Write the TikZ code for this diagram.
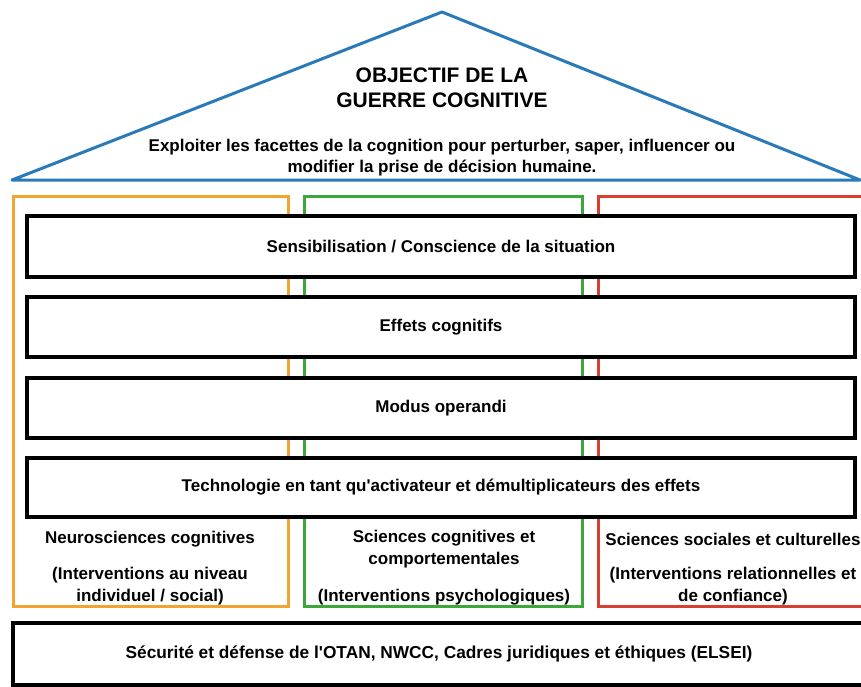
\documentclass[tikz,border=0pt]{standalone}
\usepackage{fontspec}
\setmainfont{Liberation Sans}
\definecolor{triblue}{HTML}{2A7AB8}
\definecolor{corange}{HTML}{F2A431}
\definecolor{cgreen}{HTML}{3CA83A}
\definecolor{cred}{HTML}{D83F30}
\tikzset{
  colbox/.style={draw, line width=3pt, inner sep=0pt, outer sep=0pt},
  layerbox/.style={draw=black, fill=white, line width=4pt, inner sep=0pt, outer sep=0pt,
    minimum width=828pt, minimum height=60pt,
    font=\fontsize{17}{20}\selectfont\bfseries},
  coltext/.style={align=center, inner sep=0pt, font=\fontsize{17}{22}\selectfont\bfseries},
}
\begin{document}
\begin{tikzpicture}[x=1pt,y=-1pt]
\useasboundingbox (0,0) rectangle (861,686);
% roof
\coordinate (apex) at (442,12);
\coordinate (bl) at (12,180);
\coordinate (br) at (860,180);
\draw[triblue, line width=3pt, line join=round] (apex) -- (br) -- (bl) -- cycle;
\node[align=center, inner sep=0pt, font=\fontsize{21}{25}\selectfont\bfseries] (title) at (442,88)
  {OBJECTIF DE LA\\GUERRE COGNITIVE};
\node[align=center, inner sep=0pt, font=\fontsize{17}{21}\selectfont\bfseries] (sub) at (442,158)
  {Exploiter les facettes de la cognition pour perturber, saper, influencer ou\\modifier la prise de décision humaine.};
% pillars
\node[colbox, draw=corange, minimum width=275pt, minimum height=410pt] (po) at (150.5,401.5) {};
\node[colbox, draw=cgreen, minimum width=278pt, minimum height=410pt] (pg) at (443.5,401.5) {};
\node[colbox, draw=cred, minimum width=270pt, minimum height=410pt] (pr) at (733,401.5) {};
% layers
\node[layerbox, minimum height=61pt] (l1) at (441,246.5) {Sensibilisation / Conscience de la situation};
\node[layerbox] (l2) at (441,327) {Effets cognitifs};
\node[layerbox] (l3) at (441,408) {Modus operandi};
\node[layerbox, minimum height=59pt] (l4) at (441,487.5) {Technologie en tant qu\textquotesingle activateur et démultiplicateurs des effets};
% pillar texts
\node[coltext] (to1) at (150,539) {Neurosciences cognitives};
\node[coltext] (to2) at (150,586) {(Interventions au niveau\\individuel / social)};
\node[coltext] (tg1) at (444,549) {Sciences cognitives et\\comportementales};
\node[coltext] (tg2) at (444,597) {(Interventions psychologiques)};
\node[coltext] (tr1) at (733,539) {Sciences sociales et culturelles};
\node[coltext] (tr2) at (733,586) {(Interventions relationnelles et\\de confiance)};
% base
\node[layerbox, minimum width=860pt, minimum height=62pt] (base) at (443,654) {};
\node[inner sep=0pt, font=\fontsize{17.3}{20}\selectfont\bfseries] (basetext) at (439,654)
  {Sécurité et défense de l\textquotesingle OTAN, NWCC, Cadres juridiques et éthiques (ELSEI)};
\end{tikzpicture}
\end{document}
